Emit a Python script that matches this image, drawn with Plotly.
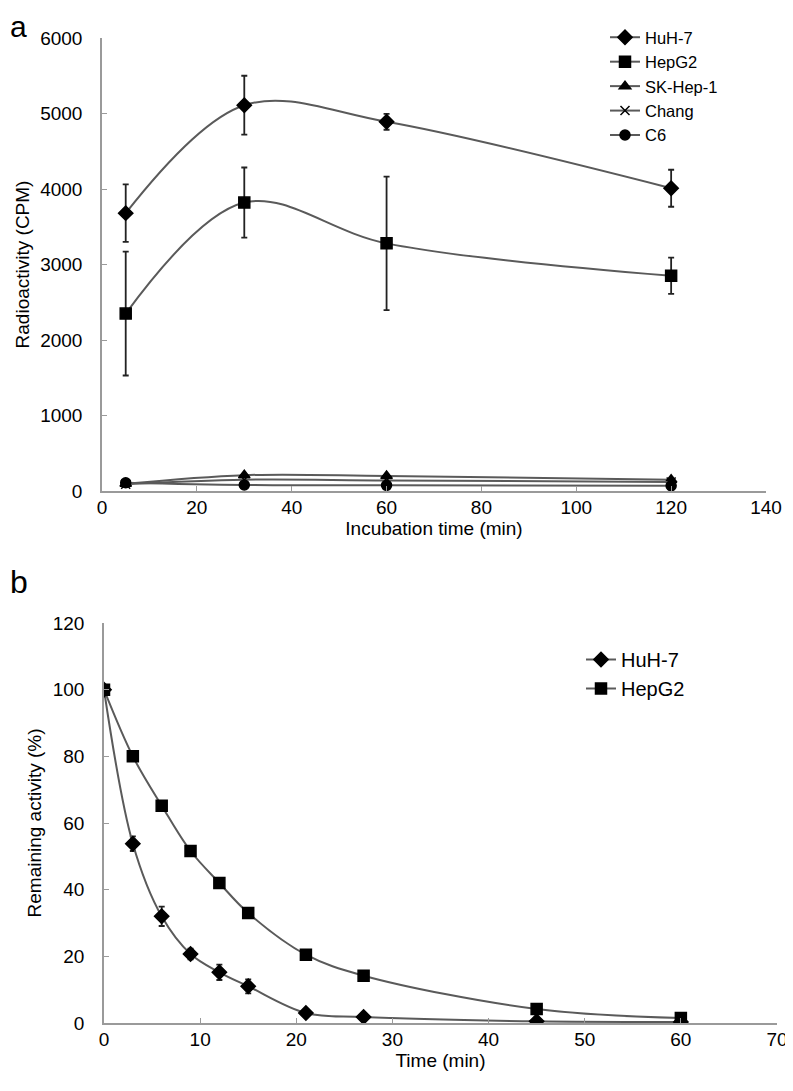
import plotly.graph_objects as go

# panel a: uptake over incubation time
time_a = [5, 30, 60, 120]
huh7_a = [3680, 5110, 4890, 4010]
huh7_a_err = [380, 390, 105, 245]
hepg2_a = [2350, 3820, 3280, 2850]
hepg2_a_err = [820, 465, 885, 240]
skhep1_a = [95, 210, 200, 150]
chang_a = [90, 150, 140, 120]
c6_a = [110, 80, 75, 70]

# panel b: remaining activity
time_b = [0, 3, 6, 9, 12, 15, 21, 27, 45, 60]
huh7_b = [100, 53.8, 32, 20.7, 15.2, 11, 3, 1.8, 0.5, 0.3]
huh7_b_err = [0, 2.2, 2.9, 1.6, 2.3, 2.1, 0.4, 0.3, 0.2, 0.1]
hepg2_b = [100, 80, 65.2, 51.6, 42, 33, 20.5, 14.2, 4.2, 1.5]
hepg2_b_err = [0, 0.5, 0.6, 0.6, 0.7, 1.0, 0.5, 0.4, 0.3, 0.2]

# the page body has an 8px margin, so the figure sits at (8, 8)
OFF = 8
W, H = 793 - OFF, 1091 - OFF
M = dict(l=102 - OFF, r=W - (777 - OFF), t=38 - OFF, b=H - (1023 - OFF))
FONT = "Liberation Sans, Arial, sans-serif"
LINE = "#5a5a5a"


def px_x(x):
    # page pixel -> paper x
    return (x - OFF - M["l"]) / (W - M["l"] - M["r"])


def px_y(y):
    # page pixel -> paper y
    return (H - M["b"] - (y - OFF)) / (H - M["t"] - M["b"])


def series(x, y, name, symbol, size, err=None, xa="x", ya="y", legend="legend"):
    return go.Scatter(
        x=x, y=y, name=name, mode="lines+markers",
        line=dict(color=LINE, width=2, shape="spline", smoothing=1),
        marker=dict(symbol=symbol, size=size, color="black",
                    line=dict(color="black", width=1.5)),
        error_y=None if err is None else dict(
            type="data", array=err, color="#222", thickness=1.8, width=3),
        xaxis=xa, yaxis=ya, legend=legend,
    )


fig = go.Figure()
fig.add_trace(series(time_a, huh7_a, "HuH-7", "diamond", 11, huh7_a_err))
fig.add_trace(series(time_a, hepg2_a, "HepG2", "square", 11, hepg2_a_err))
fig.add_trace(series(time_a, skhep1_a, "SK-Hep-1", "triangle-up", 10))
fig.add_trace(series(time_a, chang_a, "Chang", "x-thin", 9))
fig.add_trace(series(time_a, c6_a, "C6", "circle", 10))

fig.add_trace(series(time_b, huh7_b, "HuH-7", "diamond", 11, huh7_b_err,
                     "x2", "y2", "legend2"))
fig.add_trace(series(time_b, hepg2_b, "HepG2", "square", 11, hepg2_b_err,
                     "x2", "y2", "legend2"))

axis = dict(
    showline=True, linecolor="#9a9a9a", linewidth=1.5, showgrid=False,
    zeroline=False, ticks="inside", ticklen=5, tickcolor="#9a9a9a",
    tickfont=dict(size=19, color="black"), mirror=False, automargin=False,
)
title_font = dict(size=19)

fig.update_layout(
    width=W, height=H, margin=M,
    paper_bgcolor="white", plot_bgcolor="white",
    font=dict(family=FONT, color="black", size=19),
    xaxis=dict(axis, domain=[0, px_x(766)], range=[0, 140], dtick=20,
               title=dict(text="Incubation time (min)", font=title_font, standoff=0),
               anchor="y", ticklabelstandoff=-2),
    yaxis=dict(axis, domain=[px_y(491), 1], range=[0, 6000], dtick=1000,
               title=dict(text="Radioactivity (CPM)", font=title_font, standoff=6),
               anchor="x", ticklabelstandoff=14),
    xaxis2=dict(axis, domain=[px_x(104), 1], range=[0, 70], dtick=10,
                title=dict(text="Time (min)", font=title_font, standoff=0),
                anchor="y2", ticklabelstandoff=-2),
    yaxis2=dict(axis, domain=[0, px_y(623)], range=[0, 120], dtick=20,
                title=dict(text="Remaining activity (%)", font=title_font, standoff=6),
                anchor="x2", ticklabelstandoff=14),
    legend=dict(x=px_x(605), y=px_y(20), xanchor="left", yanchor="top",
                font=dict(size=16.5), bgcolor="rgba(0,0,0,0)", tracegroupgap=0,
                itemwidth=30),
    legend2=dict(x=px_x(581), y=px_y(640), xanchor="left", yanchor="top",
                 font=dict(size=20), bgcolor="rgba(0,0,0,0)", tracegroupgap=0,
                 itemwidth=30),
    showlegend=True,
    annotations=[
        dict(text="a", x=px_x(8), y=px_y(8), xref="paper", yref="paper",
             xanchor="left", yanchor="top", showarrow=False,
             font=dict(size=30, family=FONT)),
        dict(text="b", x=px_x(8), y=px_y(562), xref="paper", yref="paper",
             xanchor="left", yanchor="top", showarrow=False,
             font=dict(size=32, family=FONT)),
    ],
)

fig.write_html("out.html")
